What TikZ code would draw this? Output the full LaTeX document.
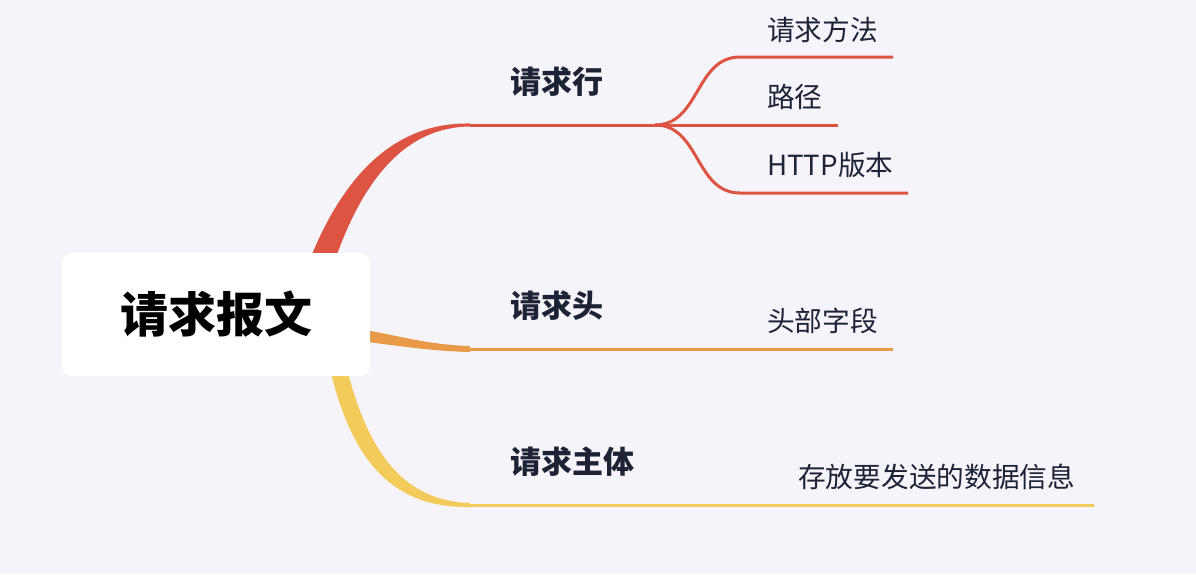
\documentclass[tikz,border=0pt]{standalone}
\usepackage{fontspec}
\setmainfont{Noto Sans CJK SC}
\definecolor{bg}{HTML}{F4F4FA}
\definecolor{cred}{HTML}{DE5443}
\definecolor{corange}{HTML}{E99A48}
\definecolor{cyellow}{HTML}{F2CB5A}
\definecolor{ink}{HTML}{1E2235}
\tikzset{
  rootbox/.style={fill=white, rounded corners=10pt, minimum width=308pt, minimum height=123pt, inner sep=0pt, font=\fontsize{48}{52}\selectfont\bfseries, text=black},
  branchtext/.style={anchor=west, inner sep=0pt, font=\fontsize{31}{35}\selectfont\bfseries, text=ink},
  leaftext/.style={anchor=west, inner sep=0pt, font=\fontsize{27.7}{31}\selectfont, text=ink},
  thin/.style={line width=3pt, line cap=butt},
}
\begin{document}
\begin{tikzpicture}[x=1pt,y=-1pt]
\fill[bg] (0,0) rectangle (1196,574);
\useasboundingbox (0,0) rectangle (1196,574);

% coordinates
\coordinate (rj) at (470,125);
\coordinate (rs) at (655,125);
\coordinate (l1s) at (740,57);
\coordinate (l1e) at (893,57);
\coordinate (l2e) at (838,125);
\coordinate (l3s) at (740,193);
\coordinate (l3e) at (908,193);
\coordinate (oj) at (470,349);
\coordinate (oe) at (893,349);
\coordinate (yj) at (470,505);
\coordinate (ye) at (1094,505);

% red tapered branch
\fill[cred] (304,275) .. controls (340,175) and (395,122) .. (470,123.5)
  -- (470,126.5) .. controls (405,127) and (360,180) .. (330,275) -- cycle;
\draw[cred,thin] (rj) -- (rs);
\draw[cred,thin] (rs) .. controls (700,125) and (695,57) .. (l1s) -- (l1e);
\draw[cred,thin] (rs) -- (l2e);
\draw[cred,thin] (rs) .. controls (700,125) and (695,193) .. (l3s) -- (l3e);

% orange tapered branch
\fill[corange] (360,329) .. controls (400,336) and (430,345) .. (470,346)
  -- (470,352) .. controls (430,351) and (400,346) .. (360,341) -- cycle;
\draw[corange,thin] (oj) -- (oe);

% yellow tapered branch
\fill[cyellow] (329,365) .. controls (352,465) and (395,508) .. (470,507)
  -- (470,503) .. controls (405,501) and (368,455) .. (346,365) -- cycle;
\draw[cyellow,thin] (yj) -- (ye);

% root
\node[rootbox] (root) at (216,314.5) {请求报文};

% branch labels
\node[branchtext] (b1) at (510,82) {请求行};
\node[branchtext] (b2) at (510,306) {请求头};
\node[branchtext] (b3) at (510,462) {请求主体};

% leaf labels
\node[leaftext] (a1) at (767,30) {请求方法};
\node[leaftext] (a2) at (767,97) {路径};
\node[leaftext] (a3) at (767,165) {HTTP版本};
\node[leaftext] (c1) at (767,321) {头部字段};
\node[leaftext] (d1) at (798,477) {存放要发送的数据信息};
\end{tikzpicture}
\end{document}
